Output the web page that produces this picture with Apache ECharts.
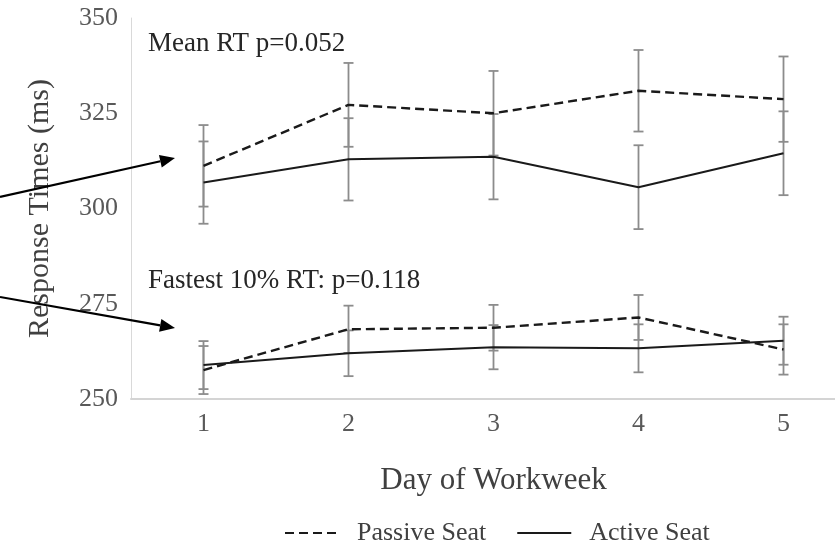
<!DOCTYPE html>
<html>
<head>
<meta charset="utf-8">
<script src="https://cdn.jsdelivr.net/npm/echarts@6/dist/echarts.min.js"></script>
<style>
html,body{margin:0;padding:0;background:#fff;}
#chart{width:835px;height:543px;}
</style>
</head>
<body>
<div id="chart"></div>
<script>
var days = ['1', '2', '3', '4', '5'];
var yTicks = [250, 275, 300, 325, 350];
var meanPassive = [311.2, 327.2, 325.0, 330.9, 328.7];
var meanActive = [306.8, 312.9, 313.6, 305.6, 314.5];
var meanPassiveErr = [10.7, 11.0, 11.1, 10.7, 11.2];
var meanActiveErr = [10.8, 10.8, 11.2, 11.0, 11.0];
var fastPassive = [257.6, 268.3, 268.7, 271.4, 263.0];
var fastActive = [258.9, 262.0, 263.6, 263.3, 265.3];
var fastPassiveErr = [6.3, 6.2, 6.0, 5.9, 6.6];
var fastActiveErr = [6.3, 6.0, 5.8, 6.3, 6.3];
var legendNames = ['Passive Seat', 'Active Seat'];
var noteMean = 'Mean RT p=0.052';
var noteFast = 'Fastest 10% RT: p=0.118';

var FONT = '"Liberation Serif", "Times New Roman", serif';

function errData(vals, errs) {
  return vals.map(function (v, i) { return [i, v - errs[i], v + errs[i]]; });
}
function errRender(params, api) {
  var x = api.value(0);
  var lo = api.coord([x, api.value(1)]);
  var hi = api.coord([x, api.value(2)]);
  var hw = 5;
  var st = { stroke: '#8c8c8c', lineWidth: 1.8 };
  return {
    type: 'group',
    children: [
      { type: 'line', shape: { x1: lo[0], y1: lo[1], x2: hi[0], y2: hi[1] }, style: st },
      { type: 'line', shape: { x1: lo[0] - hw, y1: lo[1], x2: lo[0] + hw, y2: lo[1] }, style: st },
      { type: 'line', shape: { x1: hi[0] - hw, y1: hi[1], x2: hi[0] + hw, y2: hi[1] }, style: st }
    ]
  };
}
function errSeries(name, vals, errs) {
  return {
    type: 'custom', name: name, renderItem: errRender,
    data: errData(vals, errs), z: 1, silent: true,
    encode: { x: 0, y: [1, 2] }
  };
}
function lineSeries(name, vals, dashed) {
  return {
    type: 'line', name: name, data: vals, symbol: 'none', z: 3, silent: true,
    lineStyle: dashed ? { color: '#1a1a1a', width: 2.4, type: [9, 5] } : { color: '#1a1a1a', width: 2 },
    itemStyle: { color: '#1a1a1a' }
  };
}
function arrow(x1, y1, x2, y2) {
  var dx = x2 - x1, dy = y2 - y1, L = Math.sqrt(dx * dx + dy * dy);
  var ux = dx / L, uy = dy / L, hl = 15, hw = 6.5;
  var bx = x2 - hl * ux, by = y2 - hl * uy;
  return [
    { type: 'line', shape: { x1: x1, y1: y1, x2: bx, y2: by }, style: { stroke: '#000', lineWidth: 2.2 }, z: 10 },
    { type: 'polygon', shape: { points: [[x2, y2], [bx - hw * uy, by + hw * ux], [bx + hw * uy, by - hw * ux]] }, style: { fill: '#000' }, z: 10 }
  ];
}

var chart = echarts.init(document.getElementById('chart'), null, { renderer: 'canvas' });
var option = {
  backgroundColor: '#fff',
  animation: false,
  grid: { left: 131, top: 18, width: 725, height: 381, containLabel: false, outerBoundsMode: 'none' },
  legend: {
    data: legendNames,
    top: 515,
    left: 279,
    itemWidth: 54,
    itemHeight: 14,
    itemGap: 30,
    selectedMode: false,
    itemStyle: { opacity: 0 },
    textStyle: { fontFamily: FONT, fontSize: 26, color: '#404040', padding: [0, 0, 0, 13] }
  },
  xAxis: {
    type: 'category', data: days, boundaryGap: true,
    axisLine: { lineStyle: { color: '#d4d4d4', width: 2 } },
    axisTick: { show: false },
    axisLabel: { fontFamily: FONT, fontSize: 26, color: '#595959', margin: 12 },
    name: 'Day of Workweek', nameLocation: 'middle', nameGap: 66,
    nameTextStyle: { fontFamily: FONT, fontSize: 31, color: '#404040' }
  },
  yAxis: {
    type: 'value', min: yTicks[0], max: yTicks[yTicks.length - 1], interval: 25,
    axisLine: { show: true, lineStyle: { color: '#d9d9d9', width: 1 } },
    axisTick: { show: false },
    splitLine: { show: false },
    axisLabel: { fontFamily: FONT, fontSize: 26, color: '#595959', margin: 13 },
    name: 'Response Times (ms)', nameLocation: 'middle', nameGap: 76,
    nameTextStyle: { fontFamily: FONT, fontSize: 30, color: '#404040' }
  },
  series: [
    errSeries('mpErr', meanPassive, meanPassiveErr),
    errSeries('maErr', meanActive, meanActiveErr),
    errSeries('fpErr', fastPassive, fastPassiveErr),
    errSeries('faErr', fastActive, fastActiveErr),
    lineSeries(legendNames[0], meanPassive, true),
    lineSeries(legendNames[1], meanActive, false),
    lineSeries(legendNames[0], fastPassive, true),
    lineSeries(legendNames[1], fastActive, false)
  ],
  graphic: [
    { type: 'text', left: 148, top: 30, style: { text: noteMean, font: '27px ' + FONT, fill: '#262626' }, z: 10 },
    { type: 'text', left: 148, top: 267, style: { text: noteFast, font: '27px ' + FONT, fill: '#262626' }, z: 10 }
  ].concat(arrow(0, 197, 175, 158)).concat(arrow(0, 297, 175, 328))
};
chart.setOption(option);
</script>
</body>
</html>
